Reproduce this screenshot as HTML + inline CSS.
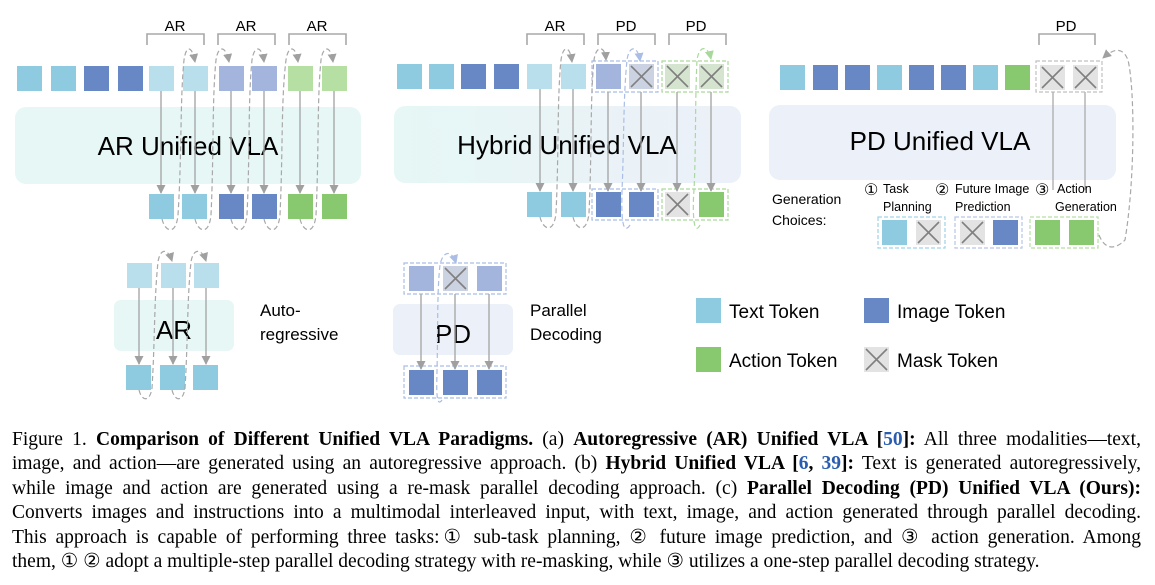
<!DOCTYPE html>
<html><head><meta charset="utf-8"><style>
body{margin:0;width:1155px;height:585px;background:#fff;overflow:hidden;position:relative}
svg{position:absolute;left:0;top:0}
.cap{position:absolute;left:12px;top:428px;width:1129px;font-family:"Liberation Serif",serif;font-size:19.5px;line-height:24.4px;color:#000}
.cap div{text-align:justify;text-align-last:justify;white-space:nowrap;height:24.4px}
.cap div.last{text-align-last:left}
.cap b{font-weight:bold}
.cap .l{color:#2a5db0}
</style></head><body>
<svg width="1155" height="420" viewBox="0 0 1155 420" font-family="Liberation Sans, sans-serif">
<defs>
<symbol id="m" viewBox="0 0 25 25"><rect width="25" height="25" fill="#e3e3e3"/><path d="M2 2L23 23M23 2L2 23" stroke="#808080" stroke-width="1.6"/></symbol>
<symbol id="mb" viewBox="0 0 25 25"><rect width="25" height="25" fill="#cbd2e2"/><path d="M2 2L23 23M23 2L2 23" stroke="#808080" stroke-width="1.6"/></symbol>
<symbol id="mg" viewBox="0 0 25 25"><rect width="25" height="25" fill="#d5e4cf"/><path d="M2 2L23 23M23 2L2 23" stroke="#808080" stroke-width="1.6"/></symbol>
<marker id="ar" markerWidth="9" markerHeight="9" refX="8" refY="4.5" orient="auto" markerUnits="userSpaceOnUse"><path d="M0 0L9 4.5L0 9z" fill="#a0a0a0"/></marker>
<marker id="arb" markerWidth="9" markerHeight="9" refX="8" refY="4.5" orient="auto" markerUnits="userSpaceOnUse"><path d="M0 0L9 4.5L0 9z" fill="#a9bde6"/></marker>
<marker id="arg" markerWidth="9" markerHeight="9" refX="8" refY="4.5" orient="auto" markerUnits="userSpaceOnUse"><path d="M0 0L9 4.5L0 9z" fill="#a9d99a"/></marker>
<linearGradient id="hg" x1="0" x2="1"><stop offset="0" stop-color="#e6f7f5"/><stop offset="1" stop-color="#ecf0f8"/></linearGradient>
</defs>

<!-- Panel 1 -->
<rect x="15" y="107" width="346" height="77" rx="11" fill="#e6f7f5"/>
<text x="188" y="155" font-size="26" text-anchor="middle">AR Unified VLA</text>
<path d="M147 45V34H204V45M218 45V34H275V45M289 45V34H346V45" fill="none" stroke="#a8a8a8" stroke-width="1.6"/>
<g font-size="15" text-anchor="middle"><text x="175" y="31">AR</text><text x="246" y="31">AR</text><text x="317" y="31">AR</text></g>
<rect x="17" y="66" width="25" height="25" fill="#8ecae0"/><rect x="51" y="66" width="25" height="25" fill="#8ecae0"/>
<rect x="84" y="66" width="25" height="25" fill="#6788c5"/><rect x="118" y="66" width="25" height="25" fill="#6788c5"/>
<rect x="149" y="66" width="25" height="25" fill="#b9dfec"/><rect x="183" y="66" width="25" height="25" fill="#b9dfec"/>
<rect x="219" y="66" width="25" height="25" fill="#a3b5dc"/><rect x="252" y="66" width="25" height="25" fill="#a3b5dc"/>
<rect x="288" y="66" width="25" height="25" fill="#b6dfa4"/><rect x="322" y="66" width="25" height="25" fill="#b6dfa4"/>
<rect x="149" y="194" width="25" height="25" fill="#8ecae0"/><rect x="182" y="194" width="25" height="25" fill="#8ecae0"/>
<rect x="219" y="194" width="25" height="25" fill="#6788c5"/><rect x="252" y="194" width="25" height="25" fill="#6788c5"/>
<rect x="288" y="194" width="25" height="25" fill="#88c970"/><rect x="322" y="194" width="25" height="25" fill="#88c970"/>
<g stroke="#a8a8a8" stroke-width="1.4" marker-end="url(#ar)">
<path d="M161 91V193"/><path d="M195 91V193"/><path d="M231 91V193"/><path d="M264 91V193"/><path d="M300 91V193"/><path d="M334 91V193"/>
</g>
<g fill="none" stroke="#a8a8a8" stroke-width="1.2" stroke-dasharray="5,3" marker-end="url(#ar)">
<path d="M162 219C165 232 176 236 178 215C182 150 180 100 184 60C186 45 192 45 195 62"/>
<path d="M195 219C198 232 209 236 211 215C214 150 212 100 216 60C218 45 226 45 229 62"/>
<path d="M231 219C234 232 245 236 247 215C250 150 248 100 252 60C254 45 262 45 264 62"/>
<path d="M264 219C267 232 278 236 280 215C283 150 281 100 286 60C288 45 296 45 298 62"/>
<path d="M300 219C303 232 314 236 316 215C319 150 317 100 321 60C323 45 331 45 333 62"/>
</g>

<!-- Panel 2 -->
<rect x="394" y="106" width="347" height="77" rx="11" fill="url(#hg)"/>
<text x="567" y="154" font-size="26" text-anchor="middle">Hybrid Unified VLA</text>
<path d="M527 45V34H584V45M598 45V34H655V45M669 45V34H726V45" fill="none" stroke="#a8a8a8" stroke-width="1.6"/>
<g font-size="15" text-anchor="middle"><text x="555" y="31">AR</text><text x="626" y="31">PD</text><text x="696" y="31">PD</text></g>
<rect x="397" y="64" width="25" height="25" fill="#8ecae0"/><rect x="429" y="64" width="25" height="25" fill="#8ecae0"/>
<rect x="461" y="64" width="25" height="25" fill="#6788c5"/><rect x="494" y="64" width="25" height="25" fill="#6788c5"/>
<rect x="527" y="64" width="25" height="25" fill="#b9dfec"/><rect x="561" y="64" width="25" height="25" fill="#b9dfec"/>
<rect x="596" y="64" width="25" height="25" fill="#a3b5dc"/>
<use href="#mb" x="629" y="64" width="25" height="25"/>
<use href="#mg" x="665" y="64" width="25" height="25"/><use href="#mg" x="699" y="64" width="25" height="25"/>
<rect x="592" y="61" width="66" height="31" fill="none" stroke="#a9bde6" stroke-width="1.2" stroke-dasharray="4,2"/>
<rect x="662" y="61" width="66" height="31" fill="none" stroke="#a9d99a" stroke-width="1.2" stroke-dasharray="4,2"/>
<rect x="527" y="192" width="25" height="25" fill="#8ecae0"/><rect x="561" y="192" width="25" height="25" fill="#8ecae0"/>
<rect x="596" y="192" width="25" height="25" fill="#6788c5"/><rect x="629" y="192" width="25" height="25" fill="#6788c5"/>
<use href="#m" x="665" y="192" width="25" height="25"/><rect x="699" y="192" width="25" height="25" fill="#88c970"/>
<rect x="592" y="189" width="66" height="31" fill="none" stroke="#a9bde6" stroke-width="1.2" stroke-dasharray="4,2"/>
<rect x="662" y="189" width="66" height="31" fill="none" stroke="#a9d99a" stroke-width="1.2" stroke-dasharray="4,2"/>
<g stroke="#a8a8a8" stroke-width="1.4" marker-end="url(#ar)">
<path d="M540 89V191"/><path d="M573 89V191"/><path d="M608 92V191"/><path d="M641 92V191"/><path d="M677 92V191"/><path d="M711 92V191"/>
</g>
<g fill="none" stroke-width="1.2" stroke-dasharray="5,3">
<path d="M540 217C543 230 554 234 556 213C559 150 557 100 561 60C563 45 570 45 572 62" stroke="#a8a8a8" marker-end="url(#ar)"/>
<path d="M573 217C576 230 587 234 589 213C592 150 590 100 594 60C596 45 605 45 606 60" stroke="#a8a8a8" marker-end="url(#ar)"/>
<path d="M630 225C620 240 622 200 622 190C624 150 623 100 627 60C629 45 638 45 640 61" stroke="#a9bde6" marker-end="url(#arb)"/>
<path d="M700 225C692 240 693 200 694 190C696 150 695 100 697 60C699 45 708 45 711 59" stroke="#a9d99a" marker-end="url(#arg)"/>
</g>

<!-- Panel 3 -->
<rect x="769" y="105" width="347" height="75" rx="11" fill="#ecf0f8"/>
<text x="940" y="150" font-size="26" text-anchor="middle">PD Unified VLA</text>
<path d="M1039 45V34H1095V45" fill="none" stroke="#a8a8a8" stroke-width="1.6"/>
<text x="1066" y="31" font-size="15" text-anchor="middle">PD</text>
<rect x="780" y="65" width="25" height="25" fill="#8ecae0"/><rect x="813" y="65" width="25" height="25" fill="#6788c5"/>
<rect x="845" y="65" width="25" height="25" fill="#6788c5"/><rect x="877" y="65" width="25" height="25" fill="#8ecae0"/>
<rect x="909" y="65" width="25" height="25" fill="#6788c5"/><rect x="941" y="65" width="25" height="25" fill="#6788c5"/>
<rect x="973" y="65" width="25" height="25" fill="#8ecae0"/><rect x="1005" y="65" width="25" height="25" fill="#88c970"/>
<use href="#m" x="1040" y="65" width="25" height="25"/><use href="#m" x="1073" y="65" width="25" height="25"/>
<rect x="1036" y="61" width="66" height="31" fill="none" stroke="#c0c0c0" stroke-width="1.2" stroke-dasharray="4,2"/>
<path d="M1053 92V190M1085 92V190" stroke="#b0b0b0" stroke-width="1.4"/>
<g font-size="14"><text x="772" y="204">Generation</text><text x="772" y="225">Choices:</text></g>
<g font-size="12.5">
<text x="864" y="195" font-size="16">①</text><text x="883" y="193">Task</text><text x="883" y="211">Planning</text>
<text x="935" y="195" font-size="16">②</text><text x="955" y="193">Future Image</text><text x="955" y="211">Prediction</text>
<text x="1035" y="195" font-size="16">③</text><text x="1057" y="193">Action</text><text x="1055" y="211">Generation</text>
</g>
<rect x="882" y="220" width="25" height="25" fill="#8ecae0"/><use href="#m" x="916" y="220" width="25" height="25"/>
<use href="#m" x="960" y="220" width="25" height="25"/><rect x="993" y="220" width="25" height="25" fill="#6788c5"/>
<rect x="1035" y="220" width="25" height="25" fill="#88c970"/><rect x="1069" y="220" width="25" height="25" fill="#88c970"/>
<rect x="878" y="217" width="67" height="31" fill="none" stroke="#9fd3e6" stroke-width="1.2" stroke-dasharray="4,2"/>
<rect x="955" y="217" width="67" height="31" fill="none" stroke="#b7c5e6" stroke-width="1.2" stroke-dasharray="4,2"/>
<rect x="1030" y="217" width="68" height="31" fill="none" stroke="#b6dfa4" stroke-width="1.2" stroke-dasharray="4,2"/>
<path d="M1099 235C1105 250 1115 250 1125 240C1135 180 1135 90 1128 60C1122 45 1112 50 1103 58" fill="none" stroke="#a8a8a8" stroke-width="1.2" stroke-dasharray="5,3" marker-end="url(#ar)"/>

<!-- Small AR -->
<rect x="114" y="300" width="120" height="51" rx="7" fill="#e6f7f5"/>
<text x="174" y="339" font-size="26" text-anchor="middle">AR</text>
<rect x="127" y="263" width="25" height="25" fill="#b9dfec"/><rect x="161" y="263" width="25" height="25" fill="#b9dfec"/><rect x="194" y="263" width="25" height="25" fill="#b9dfec"/>
<rect x="126" y="365" width="25" height="25" fill="#8ecae0"/><rect x="160" y="365" width="25" height="25" fill="#8ecae0"/><rect x="193" y="365" width="25" height="25" fill="#8ecae0"/>
<g stroke="#a8a8a8" stroke-width="1.4" marker-end="url(#ar)"><path d="M139 288V364"/><path d="M173 288V364"/><path d="M206 288V364"/></g>
<g fill="none" stroke="#a8a8a8" stroke-width="1.2" stroke-dasharray="5,3" marker-end="url(#ar)">
<path d="M139 390C142 402 150 402 152 388C155 340 154 300 158 262C160 248 168 248 172 261"/>
<path d="M172 390C175 402 183 402 185 388C188 340 187 300 191 262C193 248 202 248 206 261"/>
</g>
<g font-size="17"><text x="260" y="316">Auto-</text><text x="260" y="340">regressive</text></g>

<!-- Small PD -->
<rect x="393" y="304" width="120" height="51" rx="7" fill="#ecf0f8"/>
<text x="453" y="343" font-size="26" text-anchor="middle">PD</text>
<rect x="409" y="266" width="25" height="25" fill="#a3b5dc"/><use href="#mb" x="443" y="266" width="25" height="25"/><rect x="477" y="266" width="25" height="25" fill="#a3b5dc"/>
<rect x="404" y="263" width="102" height="31" fill="none" stroke="#a9bde6" stroke-width="1.2" stroke-dasharray="4,2"/>
<rect x="409" y="370" width="25" height="25" fill="#6788c5"/><rect x="443" y="370" width="25" height="25" fill="#6788c5"/><rect x="477" y="370" width="25" height="25" fill="#6788c5"/>
<rect x="404" y="366" width="102" height="32" fill="none" stroke="#a9bde6" stroke-width="1.2" stroke-dasharray="4,2"/>
<g stroke="#a8a8a8" stroke-width="1.4" marker-end="url(#ar)"><path d="M421 294V369"/><path d="M455 294V369"/><path d="M489 294V369"/></g>
<path d="M442 400C435 410 437 380 437 370C438 330 437 290 440 265C443 250 452 250 456 263" fill="none" stroke="#a9bde6" stroke-width="1.2" stroke-dasharray="5,3" marker-end="url(#arb)"/>
<g font-size="17"><text x="530" y="316">Parallel</text><text x="530" y="340">Decoding</text></g>

<!-- Legend -->
<rect x="696" y="298" width="25" height="25" fill="#8ecae0"/><text x="729" y="318" font-size="19">Text Token</text>
<rect x="864" y="298" width="25" height="25" fill="#6788c5"/><text x="897" y="318" font-size="19">Image Token</text>
<rect x="696" y="347" width="25" height="25" fill="#88c970"/><text x="729" y="367" font-size="19">Action Token</text>
<use href="#m" x="864" y="347" width="25" height="25"/><text x="897" y="367" font-size="19">Mask Token</text>
</svg>
<div class="cap">
<div>Figure 1. <b>Comparison of Different Unified VLA Paradigms.</b> (a) <b>Autoregressive (AR) Unified VLA [<span class="l">50</span>]:</b> All three modalities—text,</div>
<div>image, and action—are generated using an autoregressive approach. (b) <b>Hybrid Unified VLA [<span class="l">6</span>, <span class="l">39</span>]:</b> Text is generated autoregressively,</div>
<div>while image and action are generated using a re-mask parallel decoding approach. (c) <b>Parallel Decoding (PD) Unified VLA (Ours):</b></div>
<div>Converts images and instructions into a multimodal interleaved input, with text, image, and action generated through parallel decoding.</div>
<div>This approach is capable of performing three tasks:① sub-task planning, ② future image prediction, and ③ action generation. Among</div>
<div class="last">them, ① ② adopt a multiple-step parallel decoding strategy with re-masking, while ③ utilizes a one-step parallel decoding strategy.</div>
</div>
</body></html>
